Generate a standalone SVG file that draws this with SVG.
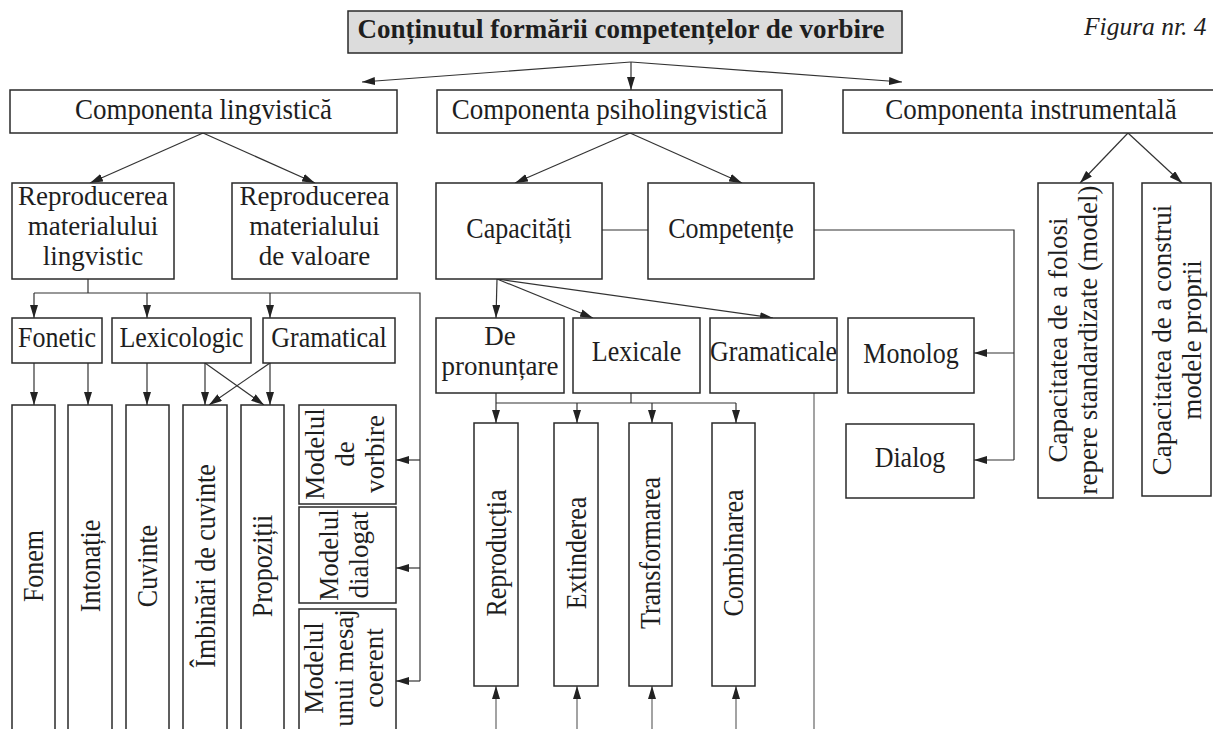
<svg xmlns="http://www.w3.org/2000/svg" width="1213" height="729" viewBox="0 0 1213 729">
<style>
text{font-family:"Liberation Serif","Times New Roman",serif;font-size:28.5px;fill:#1e1e1e;text-anchor:middle}
.t{font-size:27px;font-weight:bold}
.l1{font-size:29.5px}
.m{font-size:27px}
.fig{font-style:italic;font-size:25.5px;text-anchor:start}
.b{fill:#fff;stroke:#2a2a2a;stroke-width:1.5}
.tb{fill:#dcdcdc;stroke:#2a2a2a;stroke-width:1.5}
.k line,.k polyline{fill:none;stroke:#333;stroke-width:1.2}
.k .g{stroke:#666}
</style>
<defs>
<marker id="a" markerUnits="userSpaceOnUse" markerWidth="13" markerHeight="8" refX="13" refY="4" orient="auto">
<path d="M0,0 L13,4 L0,8 z" fill="#222"/>
</marker>
</defs>
<rect width="1213" height="729" fill="#fff"/>

<g id="connectors" class="k">
<line x1="631" y1="62" x2="362" y2="82" marker-end="url(#a)"/>
<line x1="631" y1="62" x2="631" y2="90" marker-end="url(#a)"/>
<line x1="631" y1="62" x2="902" y2="82" marker-end="url(#a)"/>
<line x1="203" y1="133" x2="90" y2="183" marker-end="url(#a)"/>
<line x1="203" y1="133" x2="315" y2="183" marker-end="url(#a)"/>
<line x1="630" y1="133" x2="515" y2="183" marker-end="url(#a)"/>
<line x1="630" y1="133" x2="742" y2="183" marker-end="url(#a)"/>
<line x1="1128" y1="133" x2="1080" y2="183" marker-end="url(#a)"/>
<line x1="1128" y1="133" x2="1182" y2="183" marker-end="url(#a)"/>
<line x1="88" y1="279" x2="88" y2="293"/>
<polyline points="34,293 420,293 420,681"/>
<line x1="34" y1="293" x2="34" y2="318" marker-end="url(#a)"/>
<line x1="147" y1="293" x2="147" y2="318" marker-end="url(#a)"/>
<line x1="270" y1="293" x2="270" y2="318" marker-end="url(#a)"/>
<line x1="420" y1="460" x2="396" y2="460" marker-end="url(#a)"/>
<line x1="420" y1="568" x2="396" y2="568" marker-end="url(#a)"/>
<line x1="420" y1="681" x2="396" y2="681" marker-end="url(#a)"/>
<line x1="34" y1="363" x2="34" y2="405" marker-end="url(#a)"/>
<line x1="88" y1="363" x2="88" y2="405" marker-end="url(#a)"/>
<line x1="147" y1="363" x2="147" y2="405" marker-end="url(#a)"/>
<line x1="205" y1="363" x2="205" y2="405" marker-end="url(#a)"/>
<line x1="270" y1="363" x2="270" y2="405" marker-end="url(#a)"/>
<line x1="205" y1="363" x2="264" y2="405" marker-end="url(#a)"/>
<line x1="270" y1="363" x2="209" y2="405" marker-end="url(#a)"/>
<line x1="602" y1="230" x2="648" y2="230"/>
<polyline points="814,230 1014,230 1014,460"/>
<line x1="1014" y1="353" x2="974" y2="353" marker-end="url(#a)"/>
<line x1="1014" y1="460" x2="974" y2="460" marker-end="url(#a)"/>
<line x1="497" y1="279" x2="496" y2="318" marker-end="url(#a)"/>
<line x1="497" y1="279" x2="593" y2="318" marker-end="url(#a)"/>
<line x1="497" y1="279" x2="773" y2="318" marker-end="url(#a)"/>
<line x1="496" y1="393" x2="496" y2="403"/>
<line x1="631" y1="393" x2="631" y2="403"/>
<line x1="496" y1="403" x2="736" y2="403"/>
<line x1="496" y1="403" x2="496" y2="423" marker-end="url(#a)"/>
<line x1="577" y1="403" x2="577" y2="423" marker-end="url(#a)"/>
<line x1="652" y1="403" x2="652" y2="423" marker-end="url(#a)"/>
<line x1="736" y1="403" x2="736" y2="423" marker-end="url(#a)"/>
<line class="g" x1="496" y1="729" x2="496" y2="686" marker-end="url(#a)"/>
<line class="g" x1="577" y1="729" x2="577" y2="686" marker-end="url(#a)"/>
<line class="g" x1="652" y1="729" x2="652" y2="686" marker-end="url(#a)"/>
<line class="g" x1="736" y1="729" x2="736" y2="686" marker-end="url(#a)"/>
<line class="g" x1="814" y1="393" x2="814" y2="729"/>
</g>

<g id="title"><rect class="tb" x="348" y="11" width="554" height="42"/><text class="t" x="621" y="38">Conținutul formării competențelor de vorbire</text></g>
<g id="figura"><text class="fig" x="1084" y="35">Figura nr. 4</text></g>

<g id="comp-ling"><rect class="b" x="10" y="90" width="387" height="43"/><text class="l1" transform="translate(203.5,119) scale(0.915,1)">Componenta lingvistică</text></g>
<g id="comp-psiho"><rect class="b" x="437" y="90" width="345" height="43"/><text class="l1" transform="translate(609.5,119) scale(0.915,1)">Componenta psiholingvistică</text></g>
<g id="comp-instr"><rect class="b" x="843" y="90" width="380" height="43"/><text class="l1" transform="translate(1031,119) scale(0.915,1)">Componenta instrumentală</text></g>

<g id="repr-ling"><rect class="b" x="12" y="183" width="162" height="96"/><text class="m"><tspan x="93" y="205">Reproducerea</tspan><tspan x="93" y="235">materialului</tspan><tspan x="93" y="265">lingvistic</tspan></text></g>
<g id="repr-val"><rect class="b" x="232" y="183" width="165" height="96"/><text class="m"><tspan x="314.5" y="205">Reproducerea</tspan><tspan x="314.5" y="235">materialului</tspan><tspan x="314.5" y="265">de valoare</tspan></text></g>

<g id="capacitati"><rect class="b" x="436" y="183" width="166" height="96"/><text transform="translate(519,238) scale(0.912,1)">Capacități</text></g>
<g id="competente"><rect class="b" x="648" y="183" width="166" height="96"/><text transform="translate(731,238) scale(0.912,1)">Competențe</text></g>

<g id="cap-folosi"><rect class="b" x="1038" y="183" width="75" height="315"/><text class="m" transform="translate(1072.5,340) rotate(-90)"><tspan x="0" y="-6">Capacitatea de a folosi</tspan><tspan x="0" y="24">repere standardizate (model)</tspan></text></g>
<g id="cap-construi"><rect class="b" x="1142" y="183" width="69" height="313"/><text class="m" transform="translate(1176.5,340) rotate(-90)"><tspan x="0" y="-5.5">Capacitatea de a construi</tspan><tspan x="0" y="24.5">modele proprii</tspan></text></g>

<g id="fonetic"><rect class="b" x="12" y="318" width="90" height="45"/><text transform="translate(57,347) scale(0.912,1)">Fonetic</text></g>
<g id="lexicologic"><rect class="b" x="112" y="318" width="139" height="45"/><text transform="translate(181.5,347) scale(0.912,1)">Lexicologic</text></g>
<g id="gramatical"><rect class="b" x="263" y="318" width="132" height="45"/><text transform="translate(329,347) scale(0.912,1)">Gramatical</text></g>

<g id="de-pronuntare"><rect class="b" x="436" y="318" width="128" height="75"/><text class="m"><tspan x="500" y="345">De</tspan><tspan x="500" y="375">pronunțare</tspan></text></g>
<g id="lexicale"><rect class="b" x="573" y="318" width="127" height="75"/><text transform="translate(636.5,361) scale(0.912,1)">Lexicale</text></g>
<g id="gramaticale"><rect class="b" x="710" y="318" width="127" height="75"/><text transform="translate(773.5,361) scale(0.912,1)">Gramaticale</text></g>
<g id="monolog"><rect class="b" x="848" y="318" width="126" height="75"/><text transform="translate(911,363) scale(0.912,1)">Monolog</text></g>
<g id="dialog"><rect class="b" x="846" y="424" width="128" height="74"/><text transform="translate(910,467) scale(0.912,1)">Dialog</text></g>

<g id="fonem"><rect class="b" x="12" y="405" width="43" height="340"/><text transform="translate(33.5,566) rotate(-90) scale(0.912,1)" y="9.5">Fonem</text></g>
<g id="intonatie"><rect class="b" x="68" y="405" width="44" height="340"/><text transform="translate(90,566) rotate(-90) scale(0.912,1)" y="9.5">Intonație</text></g>
<g id="cuvinte"><rect class="b" x="126" y="405" width="43" height="340"/><text transform="translate(147.5,566) rotate(-90) scale(0.912,1)" y="9.5">Cuvinte</text></g>
<g id="imbinari"><rect class="b" x="183" y="405" width="44" height="340"/><text transform="translate(205,566) rotate(-90) scale(0.912,1)" y="9.5">Îmbinări de cuvinte</text></g>
<g id="propozitii"><rect class="b" x="241" y="405" width="43" height="340"/><text transform="translate(262.5,566) rotate(-90) scale(0.912,1)" y="9.5">Propoziții</text></g>

<g id="model-vorbire"><rect class="b" x="299" y="405" width="97" height="99"/><text class="m" transform="translate(345,454) rotate(-90)"><tspan x="0" y="-21">Modelul</tspan><tspan x="0" y="9">de</tspan><tspan x="0" y="39">vorbire</tspan></text></g>
<g id="model-dialogat"><rect class="b" x="299" y="507" width="97" height="96"/><text class="m" transform="translate(344,555) rotate(-90)"><tspan x="0" y="-6">Modelul</tspan><tspan x="0" y="24">dialogat</tspan></text></g>
<g id="model-mesaj"><rect class="b" x="299" y="609" width="97" height="140"/><text class="m" transform="translate(344,668) rotate(-90)"><tspan x="0" y="-21">Modelul</tspan><tspan x="0" y="9">unui mesaj</tspan><tspan x="0" y="39">coerent</tspan></text></g>

<g id="reproductia"><rect class="b" x="474" y="423" width="44" height="263"/><text transform="translate(496,553) rotate(-90) scale(0.912,1)" y="9.5">Reproducția</text></g>
<g id="extinderea"><rect class="b" x="554" y="423" width="44" height="263"/><text transform="translate(576,553) rotate(-90) scale(0.912,1)" y="9.5">Extinderea</text></g>
<g id="transformarea"><rect class="b" x="629" y="423" width="43" height="263"/><text transform="translate(650.5,553) rotate(-90) scale(0.912,1)" y="9.5">Transformarea</text></g>
<g id="combinarea"><rect class="b" x="712" y="423" width="43" height="263"/><text transform="translate(733.5,553) rotate(-90) scale(0.912,1)" y="9.5">Combinarea</text></g>
</svg>
